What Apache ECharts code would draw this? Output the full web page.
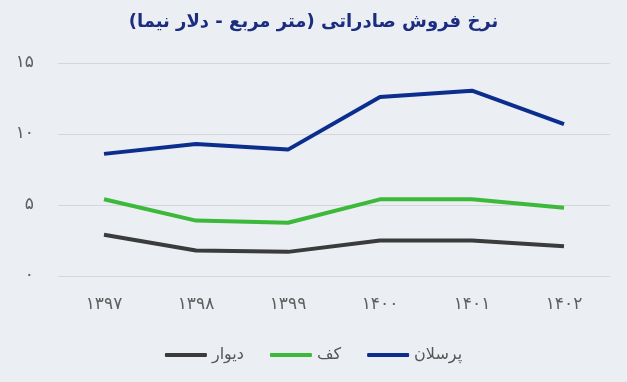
<!DOCTYPE html>
<html><head><meta charset="utf-8">
<script src="https://cdn.jsdelivr.net/npm/echarts@6/dist/echarts.min.js"></script>
<style>html,body{margin:0;padding:0;background:#ebeef2}#c{width:627px;height:382px}</style>
</head><body><div id="c"></div>
<script>
var categories = ['۱۳۹۷','۱۳۹۸','۱۳۹۹','۱۴۰۰','۱۴۰۱','۱۴۰۲'];
var porcelain = [8.6, 9.3, 8.9, 12.6, 13.05, 10.7];
var floor = [5.4, 3.9, 3.75, 5.4, 5.4, 4.8];
var wall = [2.9, 1.8, 1.7, 2.5, 2.5, 2.1];
var yTicks = ['۰','۵','۱۰','۱۵'];
var FONT = 'DejaVu Sans';
var chart = echarts.init(document.getElementById('c'));
chart.setOption({
  backgroundColor: '#ebeef2',
  animation: false,
  title: { text: 'نرخ فروش صادراتی (متر مربع - دلار نیما)', left: 'center', top: 8,
    textStyle: { color: '#1b2d80', fontSize: 18, fontWeight: 'bold', fontFamily: FONT } },
  legend: { bottom: 14, left: 'center', itemWidth: 42, itemHeight: 4, itemGap: 26,
    icon: 'roundRect',
    textStyle: { fontSize: 16, color: '#555', fontFamily: FONT },
    data: ['دیوار','کف','پرسلان'] },
  grid: { left: 58, right: 17, top: 63, bottom: 106 },
  xAxis: { type: 'category', data: categories, boundaryGap: true,
    axisLine: { show: false }, axisTick: { show: false },
    axisLabel: { color: '#5e5e5e', fontSize: 17, margin: 20, fontFamily: FONT } },
  yAxis: { type: 'value', min: 0, max: 15, interval: 5,
    axisLine: { show: false }, axisTick: { show: false },
    splitLine: { lineStyle: { color: '#d3d6db', width: 1 } },
    axisLabel: { color: '#5e5e5e', fontSize: 17, margin: 24, fontFamily: FONT,
      formatter: function(v){ return yTicks[v/5]; } } },
  series: [
    { name: 'پرسلان', type: 'line', data: porcelain, symbol: 'none', lineStyle: { width: 4, color: '#0b2e8e' }, itemStyle: { color: '#0b2e8e' } },
    { name: 'کف', type: 'line', data: floor, symbol: 'none', lineStyle: { width: 4, color: '#3cb83a' }, itemStyle: { color: '#3cb83a' } },
    { name: 'دیوار', type: 'line', data: wall, symbol: 'none', lineStyle: { width: 4, color: '#3b3b3b' }, itemStyle: { color: '#3b3b3b' } }
  ]
});
</script></body></html>
